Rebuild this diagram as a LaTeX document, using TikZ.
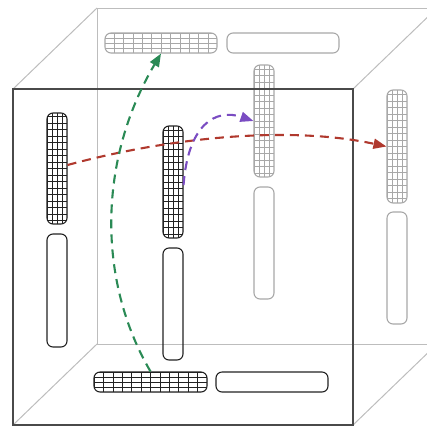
\documentclass[tikz,border=0pt]{standalone}
\usetikzlibrary{arrows.meta}
\definecolor{frontline}{HTML}{4A4A4A}
\definecolor{backline}{HTML}{BDBDBD}
\definecolor{frontcap}{HTML}{222222}
\definecolor{backcap}{HTML}{A8A8A8}
\definecolor{flowred}{HTML}{B0392E}
\definecolor{flowpurple}{HTML}{7A4CC2}
\definecolor{flowgreen}{HTML}{2A8A55}
\tikzset{
  capsule/.style={draw=#1, rounded corners=6pt, inner sep=0pt, line width=1.1pt},
  vcapsule/.style={capsule=#1, minimum width=20pt, minimum height=112pt},
  hcapsule/.style={capsule=#1, minimum width=112pt, minimum height=20pt},
  meshV/.style={path picture={\draw[line width=0.6pt, draw=#1, xstep=5pt, ystep=6.5pt]
      (path picture bounding box.south west) grid (path picture bounding box.north east);}},
  meshH/.style={path picture={\draw[line width=0.6pt, draw=#1, xstep=9.4pt, ystep=5pt]
      (path picture bounding box.south west) grid (path picture bounding box.north east);}},
  flow/.style={draw=#1, line width=2.1pt, dash pattern=on 9pt off 6pt,
      -{Triangle[length=13pt,width=10pt,fill=#1]}},
  boxfront/.style={draw=frontline, line width=1.3pt},
  boxback/.style={draw=backline, line width=1pt},
}
\begin{document}
\begin{tikzpicture}[x=1pt,y=-1pt]
\useasboundingbox (0,0) rectangle (427,426);
\clip (0,0) rectangle (427,426);
% back box
\draw[boxback] (97,8) rectangle (437,344);
\draw[boxback] (13,89) -- (97,8);
\draw[boxback] (353,89) -- (437,8);
\draw[boxback] (13,425) -- (97,344);
\draw[boxback] (353,425) -- (437,344);
% back / side capsules
\node[hcapsule=backcap, meshH=backcap] (tm) at (161,43) {};
\node[hcapsule=backcap] (tp) at (283,43) {};
\node[vcapsule=backcap, meshV=backcap] (vm) at (264,121) {};
\node[vcapsule=backcap] (vp) at (264,243) {};
\node[vcapsule=backcap, meshV=backcap, minimum height=113pt] (rm) at (397,146.5) {};
\node[vcapsule=backcap] (rp) at (397,268) {};
% front square
\draw[boxfront] (13,89) rectangle (353,425);
% front capsules
\node[vcapsule=frontcap, meshV=frontcap, minimum height=111pt] (lm) at (57,168.5) {};
\node[vcapsule=frontcap, minimum height=113pt] (lp) at (57,290.5) {};
\node[vcapsule=frontcap, meshV=frontcap] (mm) at (173,182) {};
\node[vcapsule=frontcap] (mp) at (173,304) {};
\node[hcapsule=frontcap, meshH=frontcap, minimum width=113pt] (bm) at (150.5,382) {};
\node[hcapsule=frontcap] (bp) at (272,382) {};
% flows
\draw[flow=flowred] ([yshift=3.5pt]lm.east) .. controls (167,138) and (287,125) .. (rm.west);
\draw[flow=flowpurple] ([yshift=-3pt]mm.east) .. controls (188,125) and (215,108) .. (vm.west);
\draw[flow=flowgreen] (bm.north) .. controls (97,280) and (98,160) .. (tm.south);
\end{tikzpicture}
\end{document}
